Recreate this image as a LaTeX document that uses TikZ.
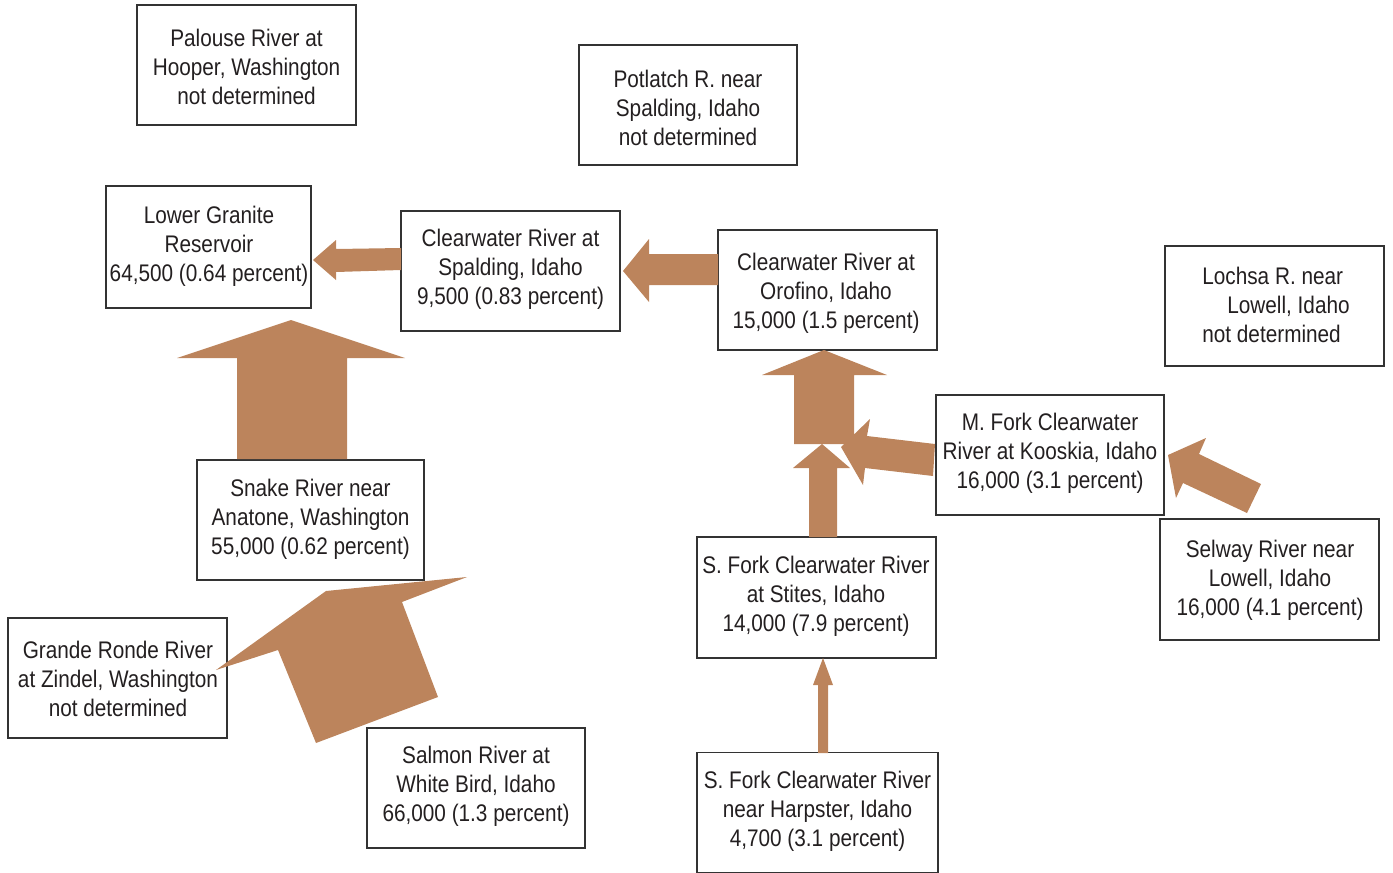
\documentclass[tikz,border=0pt]{standalone}
\usepackage{fontspec}
\setmainfont[FakeStretch=0.865]{Liberation Sans}
\definecolor{arrowc}{HTML}{BC845C}
\definecolor{linec}{HTML}{333333}
\definecolor{txtc}{HTML}{231F20}
\begin{document}
\begin{tikzpicture}[x=0.5pt,y=-0.5pt,
  box/.style={draw=linec,line width=0.75pt,inner sep=0pt,rectangle},
  txt/.style={text=txtc,align=center,inner sep=0pt,font=\fontsize{12}{14.5}\selectfont},
  blk/.style={fill=arrowc,draw=none}]
\useasboundingbox (0,0) rectangle (1393,873);
% boxes
\node[box,minimum width=109.5pt,minimum height=60pt] (palouse) at (246.5,65) {};
\node[box,minimum width=109pt,minimum height=60pt] (potlatch) at (688,105) {};
\node[box,minimum width=102.5pt,minimum height=61pt] (lgr) at (208.5,247) {};
\node[box,minimum width=109.5pt,minimum height=60pt] (spald) at (510.5,271) {};
\node[box,minimum width=109.5pt,minimum height=60pt] (orof) at (827.5,290) {};
\node[box,minimum width=109.5pt,minimum height=60pt] (lochsa) at (1274.5,306) {};
\node[box,minimum width=114pt,minimum height=60pt] (mfork) at (1050,455) {};
\node[box,minimum width=113.5pt,minimum height=60pt] (snake) at (310.5,520) {};
\node[box,minimum width=119.5pt,minimum height=60.5pt] (stites) at (816.5,597.5) {};
\node[box,minimum width=109.5pt,minimum height=60.5pt] (selway) at (1269.5,579.5) {};
\node[box,minimum width=109.5pt,minimum height=60pt] (grande) at (117.5,678) {};
\node[box,minimum width=109pt,minimum height=60pt] (salmon) at (476,788) {};
\node[box,minimum width=120.5pt,minimum height=60pt] (harp) at (817.5,812.6) {};
% block arrows
\fill[blk] (291,320) -- (405,358) -- (347,358) -- (347,459) -- (237,459) -- (237,358) -- (177,358) -- cycle;
\fill[blk] (216,670) -- (326,591) -- (467,577) -- (402,602) -- (438,697) -- (316,743) -- (278,650) -- cycle;
\fill[blk] (824,350) -- (887,375) -- (854,375) -- (854,444) -- (794,444) -- (794,375) -- (762,375) -- cycle;
\fill[blk] (822,444) -- (850,468) -- (837,468) -- (837,537) -- (809,537) -- (809,468) -- (793,468) -- cycle;
\fill[blk] (841,447) -- (870,419) -- (867,436) -- (935,444) -- (933,476) -- (865,468) -- (863,485) -- cycle;
\fill[blk] (1168,455) -- (1206,438) -- (1199,454) -- (1261,484) -- (1247,513) -- (1183,483) -- (1176,498) -- cycle;
\fill[blk] (313,260) -- (336,240) -- (336,249) -- (401,248) -- (401,270) -- (336,272) -- (336,280) -- cycle;
\fill[blk] (623,271) -- (649,239) -- (649,254) -- (718,254) -- (718,285) -- (649,285) -- (649,302) -- cycle;
\fill[blk] (823,658) -- (833,685) -- (828,685) -- (828,753) -- (818,753) -- (818,685) -- (813,685) -- cycle;
% texts
\node[txt] (tpalouse) at (246.5,67) {Palouse River at\\Hooper, Washington\\not determined};
\node[txt] (tpotlatch) at (688,108) {Potlatch R. near\\Spalding, Idaho\\not determined};
\node[txt] (tlgr) at (209,246) {Lower Granite\\Reservoir\\64,500 (0.64 percent)};
\node[txt] (tspald) at (510.5,269) {Clearwater River at\\Spalding, Idaho\\9,500 (0.83 percent)};
\node[txt] (torof) at (826,293) {Clearwater River at\\Orofino, Idaho\\15,000 (1.5 percent)};
\node[txt,align=left] (tlochsa) at (1276,305) {Lochsa R. near\\\hspace*{12.5pt}Lowell, Idaho\\not determined};
\node[txt] (tmfork) at (1050,453) {M. Fork Clearwater\\River at Kooskia, Idaho\\16,000 (3.1 percent)};
\node[txt] (tsnake) at (310.5,519) {Snake River near\\Anatone, Washington\\55,000 (0.62 percent)};
\node[txt] (tstites) at (816,596) {S. Fork Clearwater River\\at Stites, Idaho\\14,000 (7.9 percent)};
\node[txt] (tselway) at (1270,580) {Selway River near\\Lowell, Idaho\\16,000 (4.1 percent)};
\node[txt] (tgrande) at (118,679) {Grande Ronde River\\at Zindel, Washington\\not determined};
\node[txt] (tsalmon) at (476,786) {Salmon River at\\White Bird, Idaho\\66,000 (1.3 percent)};
\node[txt] (tharp) at (817.5,811) {S. Fork Clearwater River\\near Harpster, Idaho\\4,700 (3.1 percent)};
\end{tikzpicture}
\end{document}
